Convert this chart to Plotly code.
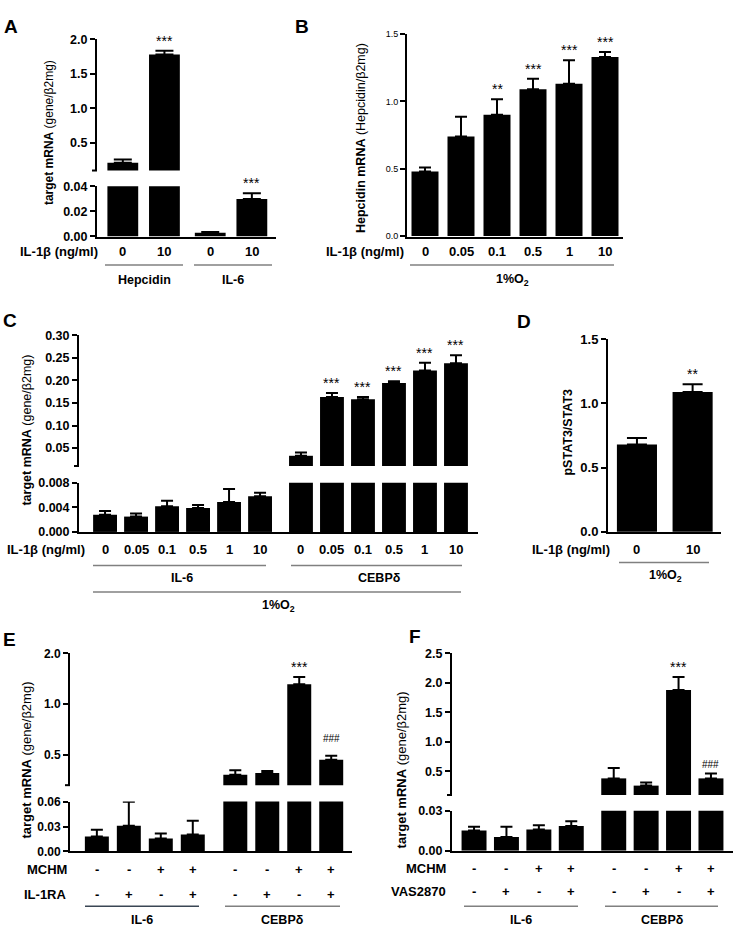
import math
import plotly.graph_objects as go

W, H = 743, 935
FONT = "Liberation Sans, Arial, sans-serif"

# ---------------- data ----------------
# Panel A
A_genes = ["Hepcidin", "IL-6"]
A_doses = ["0", "10"]
A_mean = [0.21, 1.78, 0.003, 0.030]
A_err = [0.045, 0.055, 0.0005, 0.0045]
A_sig = ["", "***", "", "***"]

# Panel B
B_doses = ["0", "0.05", "0.1", "0.5", "1", "10"]
B_mean = [0.48, 0.74, 0.90, 1.09, 1.13, 1.33]
B_err = [0.03, 0.145, 0.115, 0.077, 0.175, 0.036]
B_sig = ["", "", "**", "***", "***", "***"]

# Panel C
C_genes = ["IL-6", "CEBPδ"]
C_doses = ["0", "0.05", "0.1", "0.5", "1", "10"]
C_il6_mean = [0.0028, 0.0025, 0.0042, 0.0039, 0.0049, 0.0058]
C_il6_err = [0.0006, 0.0005, 0.0009, 0.0005, 0.0021, 0.0006]
C_cebp_mean = [0.033, 0.163, 0.158, 0.194, 0.222, 0.238]
C_cebp_err = [0.007, 0.009, 0.005, 0.004, 0.017, 0.018]
C_il6_sig = ["", "", "", "", "", ""]
C_cebp_sig = ["", "***", "***", "***", "***", "***"]

# Panel D
D_doses = ["0", "10"]
D_mean = [0.68, 1.09]
D_err = [0.05, 0.06]
D_sig = ["", "**"]

# Panel E
E_genes = ["IL-6", "CEBPδ"]
E_mchm = ["-", "-", "+", "+"]
E_il1ra = ["-", "+", "-", "+"]
E_il6_mean = [0.018, 0.031, 0.0155, 0.0205]
E_il6_err = [0.008, 0.029, 0.006, 0.0165]
E_cebp_mean = [0.381, 0.390, 1.31, 0.467]
E_cebp_err = [0.023, 0.010, 0.14, 0.026]
E_il6_sig = ["", "", "", ""]
E_cebp_sig = ["", "", "***", "###"]

# Panel F
F_genes = ["IL-6", "CEBPδ"]
F_mchm = ["-", "-", "+", "+"]
F_vas = ["-", "+", "-", "+"]
F_il6_mean = [0.0153, 0.0103, 0.016, 0.0187]
F_il6_err = [0.0027, 0.0077, 0.0032, 0.0034]
F_cebp_mean = [0.378, 0.255, 1.878, 0.378]
F_cebp_err = [0.177, 0.055, 0.222, 0.082]
F_il6_sig = ["", "", "", ""]
F_cebp_sig = ["", "", "***", "###"]


# ---------------- helpers ----------------
def fx(px):
    return px / W


def fy(py):
    return 1 - py / H


layout = {}
traces = []
annotations = []
shapes = []
n_axes = [0]


def bold(size):
    return dict(family=FONT, size=size, color="black", weight="bold")


def add_axes(xdom, xrange, ydom, yrange, ytype, tickvals, ticktext, tickfont, xline):
    n_axes[0] += 1
    n = n_axes[0]
    sx = "" if n == 1 else str(n)
    layout["xaxis" + sx] = dict(
        domain=[fx(xdom[0]), fx(xdom[1])], range=xrange, anchor="y" + sx,
        showline=xline, linecolor="black", linewidth=2, showgrid=False,
        zeroline=False, showticklabels=False, ticks="", fixedrange=True)
    if ytype == "log":
        r = [math.log10(yrange[0]), math.log10(yrange[1])]
    else:
        r = list(yrange)
    eps = (r[1] - r[0]) * 0.002
    r = [r[0] - eps, r[1] + eps]
    layout["yaxis" + sx] = dict(
        domain=[fy(ydom[1]), fy(ydom[0])], range=r, type=ytype, anchor="x" + sx,
        showline=True, linecolor="black", linewidth=2, ticks="outside",
        ticklen=5, tickwidth=2, tickcolor="black", tickvals=tickvals,
        ticktext=ticktext, tickfont=tickfont, showgrid=False, zeroline=False,
        fixedrange=True)
    return "x" + sx, "y" + sx


def add_bars(xr, yr, pos, mean, err, bw, capw):
    traces.append(go.Bar(
        x=pos, y=mean, width=bw, xaxis=xr, yaxis=yr,
        marker=dict(color="black", line=dict(width=0)),
        error_y=dict(type="data", symmetric=False, array=err,
                     arrayminus=[0] * len(err), color="black",
                     thickness=2, width=capw),
        showlegend=False, hoverinfo="skip"))


def panel(xdom, xrange, positions, segs, mean, err, sig, bw, capw, hash_shift=2):
    axes = []
    for k, s in enumerate(segs):
        xline = (k == len(segs) - 1)
        xr, yr = add_axes(xdom, xrange, s["ydom"], s["range"], s.get("type", "linear"),
                          s["tickvals"], s["ticktext"], s["font"], xline)
        add_bars(xr, yr, positions, mean, err, bw, capw)
        axes.append((xr, yr, s))
        if s.get("break_tick"):
            # short tick closing the upper segment of a broken axis
            shapes.append(dict(type="line", xref="paper", yref="paper",
                               x0=fx(xdom[0] - 5), x1=fx(xdom[0]),
                               y0=fy(s["ydom"][1]), y1=fy(s["ydom"][1]),
                               line=dict(color="black", width=2)))
    for i, t in enumerate(sig):
        if not t:
            continue
        top = mean[i] + err[i]
        for xr, yr, s in axes:
            if top >= s["range"][0]:
                y = math.log10(top) if s.get("type") == "log" else top
                is_hash = "#" in t
                annotations.append(dict(
                    x=positions[i], y=y, xref=xr, yref=yr, text=t, showarrow=False,
                    xanchor="center", yanchor="bottom",
                    yshift=hash_shift if is_hash else 0,
                    font=dict(family=FONT, size=10 if is_hash else 14, color="black")))
                break
    return axes[-1][0]


def group_positions(n_groups, n_per, gap):
    return [g * (n_per + gap) + i for g in range(n_groups) for i in range(n_per)]


def row_labels(xr, positions, labels, py):
    for p, l in zip(positions, labels):
        annotations.append(dict(x=p, y=fy(py), xref=xr, yref="paper", text=l,
                                showarrow=False, xanchor="center", yanchor="middle",
                                font=bold(13)))


def text(px, py, s, size=13, is_bold=True, xanchor="center", angle=0):
    annotations.append(dict(
        x=fx(px), y=fy(py), xref="paper", yref="paper", text=s, showarrow=False,
        xanchor=xanchor, yanchor="middle", textangle=angle,
        font=dict(family=FONT, size=size, color="black",
                  weight="bold" if is_bold else "normal")))


def hline(x0, x1, py, color="#808080"):
    shapes.append(dict(type="line", xref="paper", yref="paper",
                       x0=fx(x0), x1=fx(x1), y0=fy(py), y1=fy(py),
                       line=dict(color=color, width=1.5)))


def seg(ydom, rng, vals, labels, font, typ="linear", break_tick=False):
    return dict(ydom=ydom, range=rng, type=typ, tickvals=list(vals),
                ticktext=list(labels), font=font, break_tick=break_tick)


IL1B = "IL-1β (ng/ml)"
O2 = "1%O<sub>2</sub>"

# ---------------- Panel A ----------------
A_pos = group_positions(len(A_genes), len(A_doses), 0.1)
xa = panel([97, 276], [-0.62, 3.68], A_pos,
           [seg([32.5, 166], [0.1, 2.0], [0.5, 1.0, 1.5, 2.0], ["0.5", "1.0", "1.5", "2.0"],
                bold(12.5), break_tick=True),
            seg([182, 233], [0, 0.04], [0, 0.02, 0.04], ["0.00", "0.02", "0.04"], bold(12.5))],
           A_mean, A_err, A_sig, 0.74, 9)
row_labels(xa, A_pos, A_doses * len(A_genes), 248)
text(100, 248, IL1B, xanchor="right")
hline(105, 183, 262)
hline(194, 272, 262)
text(144, 277, A_genes[0], size=12.5)
text(233, 277, A_genes[1], size=12.5)
text(49, 128, "<b>target mRNA</b> (gene/β2mg)", size=12, is_bold=False, angle=-90)
text(11, 20, "A", size=19)

# ---------------- Panel B ----------------
B_pos = list(range(len(B_doses)))
SMALL = dict(family=FONT, size=9, color="black")
xb = panel([407, 623], [-0.5, 5.5], B_pos,
           [seg([27, 233], [0, 1.5], [0, 0.5, 1.0, 1.5], ["0.0", "0.5", "1.0", "1.5"], SMALL)],
           B_mean, B_err, B_sig, 0.75, 6)
row_labels(xb, B_pos, B_doses, 248)
text(406, 248, IL1B, xanchor="right")
hline(410, 614, 262)
text(512, 277, O2, size=12.5)
text(361, 133, "<b>Hepcidin mRNA</b> (Hepcidin/β2mg)", size=12.5, is_bold=False, angle=-90)
text(302, 20, "B", size=19)

# ---------------- Panel C ----------------
C_pos = group_positions(len(C_genes), len(C_doses), 0.32)
xc = panel([79, 478], [-0.84, 12.03], C_pos,
           [seg([333, 466], [0.0109, 0.30], [0.05, 0.10, 0.15, 0.20, 0.25, 0.30],
                ["0.05", "0.10", "0.15", "0.20", "0.25", "0.30"], bold(12.5), break_tick=True),
            seg([483, 533], [0, 0.008], [0, 0.004, 0.008], ["0.000", "0.004", "0.008"], bold(12.5))],
           C_il6_mean + C_cebp_mean, C_il6_err + C_cebp_err, C_il6_sig + C_cebp_sig, 0.77, 6)
row_labels(xc, C_pos, C_doses * len(C_genes), 551)
text(87, 551, IL1B, xanchor="right")
hline(93, 266, 567)
hline(291, 462, 567)
text(182, 580, C_genes[0], size=12.5)
text(379, 580, C_genes[1], size=12.5)
hline(93, 461, 594)
text(278, 608, O2, size=12.5)
text(27, 430, "<b>target mRNA</b> (gene/β2mg)", size=12.5, is_bold=False, angle=-90)
text(10, 318, "C", size=19)

# ---------------- Panel D ----------------
D_pos = list(range(len(D_doses)))
xd = panel([608, 721], [-0.52, 1.51], D_pos,
           [seg([337, 533], [0, 1.5], [0, 0.5, 1.0, 1.5], ["0.0", "0.5", "1.0", "1.5"], bold(13))],
           D_mean, D_err, D_sig, 0.72, 10)
row_labels(xd, D_pos, D_doses, 551)
text(612, 551, IL1B, xanchor="right")
hline(619, 709, 564)
text(665, 578, O2, size=12.5)
text(568, 432, "pSTAT3/STAT3", size=12.5, angle=-90)
text(524, 319, "D", size=19)

# ---------------- Panel E ----------------
E_pos = group_positions(len(E_genes), len(E_mchm), 0.33)
xe = panel([70, 352], [-0.84, 7.98], E_pos,
           [seg([656, 790], [0.331, 2.0], [0.5, 1.0, 2.0], ["0.5", "1.0", "2.0"],
                bold(12), typ="log", break_tick=True),
            seg([806.7, 857.3], [0, 0.06], [0, 0.03, 0.06], ["0.00", "0.03", "0.06"], bold(12))],
           E_il6_mean + E_cebp_mean, E_il6_err + E_cebp_err, E_il6_sig + E_cebp_sig, 0.75, 6,
           hash_shift=10)
row_labels(xe, E_pos, E_mchm * len(E_genes), 876)
row_labels(xe, E_pos, E_il1ra * len(E_genes), 901)
text(69, 876, "MCHM", xanchor="right")
text(69, 901, "IL-1RA", xanchor="right")
hline(85, 199, 913, color="#3a4654")
hline(225, 340, 913)
text(142, 927, E_genes[0], size=12.5)
text(282, 927, E_genes[1], size=12.5)
text(27, 765, "<b>target mRNA</b> (gene/β2mg)", size=13, is_bold=False, angle=-90)
text(9, 642, "E", size=19)

# ---------------- Panel F ----------------
F_pos = group_positions(len(F_genes), len(F_mchm), 0.31)
xf = panel([452, 733], [-0.68, 7.99], F_pos,
           [seg([656, 800], [0.1, 2.5], [0.5, 1.0, 1.5, 2.0, 2.5],
                ["0.5", "1.0", "1.5", "2.0", "2.5"], bold(12.5), break_tick=True),
            seg([816, 856.7], [0, 0.03], [0, 0.03], ["0.00", "0.03"], bold(12.5))],
           F_il6_mean + F_cebp_mean, F_il6_err + F_cebp_err, F_il6_sig + F_cebp_sig, 0.77, 6,
           hash_shift=2)
row_labels(xf, F_pos, F_mchm * len(F_genes), 875)
row_labels(xf, F_pos, F_vas * len(F_genes), 898)
text(448, 875, "MCHM", xanchor="right")
text(448, 898, "VAS2870", xanchor="right")
hline(464, 578, 913)
hline(605, 718, 913)
text(521, 927, F_genes[0], size=12.5)
text(662, 927, F_genes[1], size=12.5)
text(401, 775, "<b>target mRNA</b> (gene/β2mg)", size=13, is_bold=False, angle=-90)
text(415, 639, "F", size=19)

# ---------------- figure ----------------
fig = go.Figure(data=traces)
fig.update_layout(**layout)
fig.update_layout(
    width=W, height=H, margin=dict(l=0, r=0, t=0, b=0),
    paper_bgcolor="white", plot_bgcolor="white",
    font=dict(family=FONT, color="black"),
    annotations=annotations, shapes=shapes, showlegend=False, barmode="overlay")
fig.write_html("out.html", config={"displayModeBar": False},
               post_script="document.body.style.margin='0';document.body.style.overflow='hidden';")
